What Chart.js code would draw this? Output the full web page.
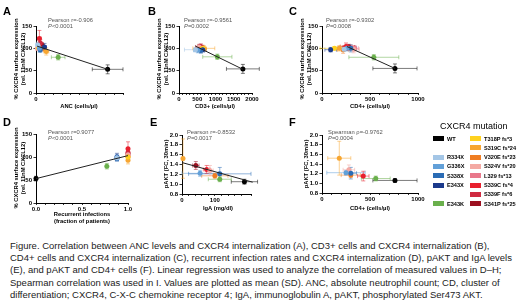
<!DOCTYPE html>
<html><head><meta charset="utf-8">
<script src="https://cdn.jsdelivr.net/npm/chart.js@4.4.1/dist/chart.umd.min.js"></script>
<style>
html,body{margin:0;padding:0;background:#fff;}
body{width:520px;height:307px;position:relative;overflow:hidden;font-family:"Liberation Sans",Arial,sans-serif;color:#000;}
canvas{position:absolute;}
.lt{position:absolute;font-weight:bold;font-size:11px;line-height:11px;}
.yt{position:absolute;font-weight:bold;font-size:5.8px;line-height:6.6px;text-align:center;white-space:nowrap;transform:translate(-50%,-50%) rotate(-90deg);}
.xt{position:absolute;font-weight:bold;font-size:5.8px;line-height:6.6px;text-align:center;white-space:nowrap;transform:translate(-50%,-50%);}
.st{position:absolute;font-size:5.8px;line-height:5.6px;color:#555;white-space:nowrap;}
.lg{position:absolute;font-size:5.6px;font-weight:bold;line-height:6px;white-space:nowrap;}
.sw{position:absolute;width:11px;height:5px;}
#cap{position:absolute;left:10px;top:240px;white-space:nowrap;color:#222;}
</style></head>
<body>
<script>
// ---------- data ----------
const mutations = ['WT','R334X','G336X','S338X','E343X','E343K','T318P fs*3','S319C fs*24','V320E fs*23','S324V fs*20','L329 fs*13','S339C fs*4','S339F fs*6','S341P fs*25'];
const mutationColors = ['#000000','#a4c6e6','#62a0d8','#2b6cb5','#1b3a8c','#6ab04c','#ffd21f','#f7a631','#ef7d22','#f4a9a3','#e9788b','#e8202e','#d02a40','#9c1020'];

// A: ANC vs CXCR4 surface expression
const ancMean    = [4200, 100, 200, 250, 500, 1300, 150, 600, 450,  80, 150, 200, 250, 350];
const ancSD      = [ 900, 100, 100, 100, 100,  400,  80, 150, 100,  50,  80, 100,  80, 100];
const cxcr4A     = [  53, 108, 100,  97, 103,   80, 102,  93, 100, 100, 104, 122, 112, 107];
const cxcr4ASD   = [  10,   6,   8,   6,   8,    6,   5,   8,   6,   5,   8,  18,   8,   6];
const fitA_x = [60, 4200], fitA_y = [105, 53];

// B: CD3+ vs CXCR4
const cd3Mean    = [1750, 450, 520, 600, 650, 1050, 650, 680, 600, 550, 580, 620, 600, 560];
const cd3SD      = [ 450, 300, 120, 100,  80,  400, 100, 300, 150, 100, 100,  80,  80, 100];
const cxcr4B     = [  54,  97,  96,  95,  97,   81, 100, 100,  98, 103, 100,  98, 104, 103];
const cxcr4BSD   = [  10,   5,   6,   6,   5,    6,   5,   6,   6,   5,   6,   5,   6,   6];
const fitB_x = [450, 1750], fitB_y = [105, 53];

// C: CD4+ vs CXCR4
const cd4MeanC   = [ 760, 230, 260, 300,  90, 540, 130, 180, 220, 330, 340, 250, 270, 280];
const cd4SDC     = [ 230,  80, 100,  60,  60, 260, 150,  60,  60,  60,  40,  60,  50,  60];
const cxcr4C     = [  55,  98, 100, 100,  97,  80, 100, 100,  97,  98, 100, 104, 102, 103];
const cxcr4CSD   = [  10,   5,   6,   8,   5,   6,   4,   6,   8,   8,   6,   8,   6,   6];
const fitC_x = [260, 760], fitC_y = [104, 55];

// D: recurrent infections vs CXCR4
const infFrac    = [0.0, 0.88, 0.88, 0.88, 0.88, 0.77, 1.0, 1.0, 1.0, 1.0, 1.0, 1.0, 1.0, 1.0];
const cxcr4D     = [ 53,   98,   99,   97,  100,   80, 100,  93, 100, 105, 104, 118, 110, 107];
const cxcr4DSD   = [  5,    6,    6,    6,    8,    6,   5,   8,   6,   5,   8,  15,   8,   6];
const fitD_x = [0, 1.0], fitD_y = [53, 103];

// E: IgA vs pAKT
const igaMean    = [190, null,  55, 115, null, 115, null,   3, 100,  85, null,  75, null,  42];
const igaSD      = [ 40, null,  55,  95, null,  35, null,   3,  40,  10, null,  10, null,  10];
const paktE      = [1.05, null, 1.22, 1.21, null, 1.10, null, 1.52, 1.17, 1.28, null, 1.30, null, 1.38];
const paktESD    = [0.05, null, 0.06, 0.13, null, 0.05, null, 0.40, 0.05, 0.10, null, 0.08, null, 0.08];
const fitE_x = [0, 215], fitE_y = [1.44, 1.04];

// F: CD4+ vs pAKT
const cd4MeanF   = [760, null, 250, 300, null, 560, null, 180, 300, 280, null, 430, null, null];
const cd4SDF     = [230, null, 200,  60, null, 150, null, 120, 100,  60, null,  60, null, null];
const paktF      = [1.06, null, 1.22, 1.21, null, 1.10, null, 1.52, 1.17, 1.28, null, 1.15, null, null];
const paktFSD    = [0.04, null, 0.05, 0.12, null, 0.05, null, 0.35, 0.05, 0.10, null, 0.10, null, null];

// tick labels
const ticksA = [0, 2000, 4000];
const ticksB = [0, 500, 1000, 1500, 2000];
const ticksCD4 = [0, 500, 1000];
const ticksD = [0, 0.5, 1.0];
const ticksE = [0, 100, 200];
const ticksPct = [0, 50, 100, 150];
const ticksPakt = [0.8, 1.0, 1.2, 1.4, 1.6, 1.8, 2.0];

const legendCol1 = ['WT', null, 'R334X', 'G336X', 'S338X', 'E343X', null, 'E343K'];
const legendCol2 = ['T318P fs*3','S319C fs*24','V320E fs*23','S324V fs*20','L329 fs*13','S339C fs*4','S339F fs*6','S341P fs*25'];

const captionLines = [
 'Figure. Correlation between ANC levels and CXCR4 internalization (A), CD3+ cells and CXCR4 internalization (B),',
 'CD4+ cells and CXCR4 internalization (C), recurrent infection rates and CXCR4 internalization (D), pAKT and IgA levels',
 '(E), and pAKT and CD4+ cells (F). Linear regression was used to analyze the correlation of measured values in D\u2013H;',
 'Spearman correlation was used in I. Values are plotted as mean (SD). ANC, absolute neutrophil count; CD, cluster of',
 'differentiation; CXCR4, C-X-C chemokine receptor 4; IgA, immunoglobulin A, pAKT, phosphorylated Ser473 AKT.'
];

// ---------- drawing ----------
const FONT = '"Liberation Sans", Arial, sans-serif';
const errPlugin = {
  id: 'errbars',
  beforeDatasetsDraw(chart) {
    const ctx = chart.ctx, xs = chart.scales.x, ys = chart.scales.y;
    chart.data.datasets.forEach(ds => {
      if (!ds.err) return;
      const e = ds.err;
      const px = xs.getPixelForValue(e.x), py = ys.getPixelForValue(e.y);
      ctx.save();
      ctx.globalAlpha = 0.65;
      ctx.strokeStyle = ds.borderColor;
      ctx.lineWidth = 0.8;
      ctx.beginPath();
      if (e.xsd) {
        const a = xs.getPixelForValue(e.x - e.xsd), b = xs.getPixelForValue(e.x + e.xsd);
        ctx.moveTo(a, py); ctx.lineTo(b, py);
        ctx.moveTo(a, py - 2); ctx.lineTo(a, py + 2);
        ctx.moveTo(b, py - 2); ctx.lineTo(b, py + 2);
      }
      if (e.ysd) {
        const a = ys.getPixelForValue(e.y - e.ysd), b = ys.getPixelForValue(e.y + e.ysd);
        ctx.moveTo(px, a); ctx.lineTo(px, b);
        ctx.moveTo(px - 2, a); ctx.lineTo(px + 2, a);
        ctx.moveTo(px - 2, b); ctx.lineTo(px + 2, b);
      }
      ctx.stroke();
      ctx.restore();
    });
  }
};

function near(v, list) { return list.some(t => Math.abs(t - v) < 1e-6); }

function panel(p) {
  const L = 30, T = 14, R = 18, B = 16;
  const w = p.area.r - p.area.l + L + R;
  const h = p.area.b - p.area.t + T + B;
  const c = document.createElement('canvas');
  c.width = w; c.height = h;
  c.style.left = (p.area.l - L) + 'px'; c.style.top = (p.area.t - T) + 'px';
  c.style.width = w + 'px'; c.style.height = h + 'px';
  document.body.appendChild(c);
  const datasets = [];
  if (p.fitX) {
    datasets.push({type: 'line', data: p.fitX.map((x, i) => ({x, y: p.fitY[i]})), borderColor: '#222', borderWidth: 1, pointRadius: 0, showLine: true, clip: false, order: 0});
  }
  mutations.forEach((m, i) => {
    if (p.x[i] == null) return;
    datasets.push({
      type: 'scatter', label: m,
      data: [{x: p.x[i], y: p.y[i]}],
      backgroundColor: mutationColors[i], borderColor: mutationColors[i],
      pointRadius: 2.5, pointBorderWidth: 0, clip: false, order: 1,
      err: {x: p.x[i], y: p.y[i], xsd: p.xsd ? p.xsd[i] : 0, ysd: p.ysd ? p.ysd[i] : 0}
    });
  });
  const tickFont = {family: FONT, size: 6, weight: 'bold'};
  new Chart(c, {
    type: 'scatter',
    data: {datasets},
    options: {
      responsive: false, animation: false, devicePixelRatio: 1,
      layout: {padding: {left: 0, top: T, right: R, bottom: 0}},
      plugins: {legend: {display: false}, tooltip: {enabled: false}},
      scales: {
        x: {
          type: 'linear', min: p.xmin, max: p.xmax,
          border: {display: true, color: '#000', width: 1},
          grid: {display: true, drawOnChartArea: false, drawTicks: true, tickLength: 2, color: '#000', tickWidth: 0.8},
          ticks: {stepSize: p.xstep, autoSkip: false, maxRotation: 0, padding: 1, color: '#000', font: tickFont,
                  callback: v => near(v, p.xticks) ? p.xfmt(v) : ''},
          afterFit(s) { s.height = B; s.paddingLeft = 0; s.paddingRight = 0; }
        },
        y: {
          type: 'linear', min: p.ymin, max: p.ymax,
          border: {display: true, color: '#000', width: 1},
          grid: {display: true, drawOnChartArea: false, drawTicks: true, tickLength: 2.5, color: '#000', tickWidth: 0.8},
          ticks: {stepSize: p.ystep, autoSkip: false, padding: 1.5, color: '#000', font: tickFont,
                  callback: v => near(v, p.yticks) ? p.yfmt(v) : ''},
          afterFit(s) { s.width = L; s.paddingTop = 0; s.paddingBottom = 0; }
        }
      }
    },
    plugins: [errPlugin]
  });
}

function addDiv(cls, html, left, top, extra) {
  const d = document.createElement('div');
  d.className = cls; d.innerHTML = html;
  d.style.left = left + 'px'; d.style.top = top + 'px';
  if (extra) Object.assign(d.style, extra);
  document.body.appendChild(d);
  return d;
}

const fmt0 = v => String(Math.round(v));
const fmt1 = v => v.toFixed(1);
const pctTitle = '% CXCR4 surface expression<br>(rel. 11nM CXCL12)';

panel({area: {l: 36, r: 123, t: 26, b: 93}, x: ancMean, xsd: ancSD, y: cxcr4A, ysd: cxcr4ASD, fitX: fitA_x, fitY: fitA_y,
       xmin: 0, xmax: 5100, xstep: 500, xticks: ticksA, xfmt: fmt0, ymin: 0, ymax: 150, ystep: 50, yticks: ticksPct, yfmt: fmt0});
panel({area: {l: 179, r: 252, t: 26, b: 93}, x: cd3Mean, xsd: cd3SD, y: cxcr4B, ysd: cxcr4BSD, fitX: fitB_x, fitY: fitB_y,
       xmin: 0, xmax: 2000, xstep: 100, xticks: ticksB, xfmt: fmt0, ymin: 0, ymax: 150, ystep: 50, yticks: ticksPct, yfmt: fmt0});
panel({area: {l: 322, r: 418, t: 26, b: 93}, x: cd4MeanC, xsd: cd4SDC, y: cxcr4C, ysd: cxcr4CSD, fitX: fitC_x, fitY: fitC_y,
       xmin: 0, xmax: 1000, xstep: 100, xticks: ticksCD4, xfmt: fmt0, ymin: 0, ymax: 150, ystep: 50, yticks: ticksPct, yfmt: fmt0});
panel({area: {l: 36, r: 128, t: 134, b: 203}, x: infFrac, xsd: null, y: cxcr4D, ysd: cxcr4DSD, fitX: fitD_x, fitY: fitD_y,
       xmin: 0, xmax: 1.0, xstep: 0.1, xticks: ticksD, xfmt: fmt1, ymin: 0, ymax: 150, ystep: 50, yticks: ticksPct, yfmt: fmt0});
panel({area: {l: 182, r: 251, t: 135, b: 194}, x: igaMean, xsd: igaSD, y: paktE, ysd: paktESD, fitX: fitE_x, fitY: fitE_y,
       xmin: 0, xmax: 210, xstep: 20, xticks: ticksE, xfmt: fmt0, ymin: 0.8, ymax: 2.0, ystep: 0.2, yticks: ticksPakt, yfmt: fmt1});
panel({area: {l: 322, r: 418, t: 135, b: 193}, x: cd4MeanF, xsd: cd4SDF, y: paktF, ysd: paktFSD, fitX: null, fitY: null,
       xmin: 0, xmax: 1000, xstep: 100, xticks: ticksCD4, xfmt: fmt0, ymin: 0.8, ymax: 2.0, ystep: 0.2, yticks: ticksPakt, yfmt: fmt1});

// panel letters
addDiv('lt', 'A', 3, 6); addDiv('lt', 'B', 148, 6); addDiv('lt', 'C', 289, 6);
addDiv('lt', 'D', 3, 117); addDiv('lt', 'E', 150, 117); addDiv('lt', 'F', 289, 117);
// y titles
addDiv('yt', pctTitle, 20, 59); addDiv('yt', pctTitle, 163, 59); addDiv('yt', pctTitle, 306, 59);
addDiv('yt', pctTitle, 20, 168); addDiv('yt', 'pAKT (FC, 30min)', 166, 164); addDiv('yt', 'pAKT (FC, 30min)', 306, 164);
// x titles
addDiv('xt', 'ANC (cells/\u00b5l)', 79, 106); addDiv('xt', 'CD3+ (cells/\u00b5l)', 215, 106); addDiv('xt', 'CD4+ (cells/\u00b5l)', 370, 106);
addDiv('xt', 'Recurrent infections<br>(fraction of patients)', 82, 218); addDiv('xt', 'IgA (mg/dl)', 218, 208); addDiv('xt', 'CD4+ (cells/\u00b5l)', 370, 208);
// stats
addDiv('st', 'Pearson r=-0.906<br><i>P</i>&lt;0.0001', 48, 18);
addDiv('st', 'Pearson r=-0.9561<br><i>P</i>=0.0002', 184, 18);
addDiv('st', 'Pearson r=-0.9302<br><i>P</i>=0.0008', 326, 18);
addDiv('st', 'Pearson r=0.9077<br><i>P</i>&lt;0.0001', 48, 130);
addDiv('st', 'Pearson r=-0.8532<br><i>P</i>=0.0017', 187, 130);
addDiv('st', 'Spearman \u03c1=-0.9762<br><i>P</i>=0.0004', 328, 130);

// legend
addDiv('lg', 'CXCR4 mutation', 440, 121, {fontSize: '9px', fontWeight: 'normal', lineHeight: '10px'});
const rowY0 = 136, rowDY = 9.3;
legendCol1.forEach((m, r) => {
  if (!m) return;
  const col = mutationColors[mutations.indexOf(m)];
  addDiv('sw', '', 433, rowY0 + r * rowDY, {background: col});
  addDiv('lg', m, 447, rowY0 + r * rowDY - 0.5);
});
legendCol2.forEach((m, r) => {
  const col = mutationColors[mutations.indexOf(m)];
  addDiv('sw', '', 470, rowY0 + r * rowDY, {background: col});
  addDiv('lg', m, 484, rowY0 + r * rowDY - 0.5);
});

// caption
(function () {
  const mc = document.createElement('canvas').getContext('2d');
  mc.font = '10px ' + FONT;
  const size = 10 * 503 / mc.measureText(captionLines[1]).width;
  const d = document.createElement('div');
  d.id = 'cap';
  d.style.fontSize = size.toFixed(2) + 'px';
  d.style.lineHeight = '12.2px';
  d.innerHTML = captionLines.join('<br>');
  document.body.appendChild(d);
})();
</script>
</body></html>
